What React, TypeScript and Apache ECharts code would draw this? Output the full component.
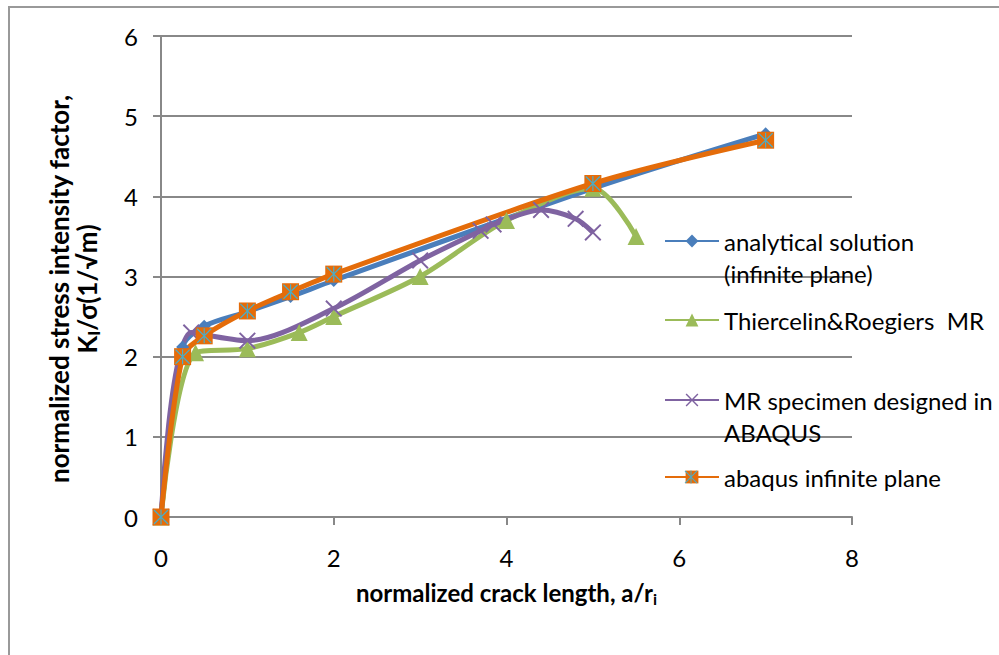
import React, { useEffect, useRef } from "react";
import * as echarts from "echarts";

// ---- data ----
const xAnalytical = [0, 0.25, 0.5, 1, 1.5, 2, 5, 7];
const yAnalytical = [0, 2.12, 2.38, 2.56, 2.75, 2.95, 4.1, 4.78];

const xThiercelin = [0, 0.4, 1, 1.6, 2, 3, 4, 5, 5.5];
const yThiercelin = [0, 2.05, 2.1, 2.3, 2.5, 3.0, 3.7, 4.1, 3.5];

const xSpecimen = [0, 0.35, 1, 2, 3, 3.7, 3.85, 4.4, 4.8, 5];
const ySpecimen = [0, 2.3, 2.2, 2.6, 3.2, 3.57, 3.65, 3.83, 3.72, 3.55];

const xAbaqus = [0, 0.25, 0.5, 1, 1.5, 2, 5, 7];
const yAbaqus = [0, 2.0, 2.26, 2.57, 2.81, 3.03, 4.16, 4.7];

const xTicks = { min: 0, max: 8, interval: 2 };
const yTicks = { min: 0, max: 6, interval: 1 };

const S1 = "analytical solution\n(infinite plane)";
const S2 = "Thiercelin&Roegiers  MR";
const S3 = "MR specimen designed in\nABAQUS";
const S4 = "abaqus infinite plane";
const S4M = "abaqus-marker";

const X_TITLE = "normalized crack length, a/r{sub|i}";
const Y_TITLE = "normalized stress intensity factor,\nK{sub|I}/σ(1/√m)";

const zip = (xs: number[], ys: number[]) => xs.map((x, i) => [x, ys[i]]);

const BLUE = "#4A7EBB";
const GREEN = "#9BBB59";
const PURPLE = "#7F63A1";
const ORANGE = "#E46C0A";
const CYAN = "#4BACC6";
const GRID = "#888888";
const FONT = 'Lato, "DejaVu Sans", sans-serif';
const FS = 24;

const X_PATH =
  "path://M0,0.8 L0.8,0 L5,4.2 L9.2,0 L10,0.8 L5.8,5 L10,9.2 L9.2,10 L5,5.8 L0.8,10 L0,9.2 L4.2,5 Z";
const AST_PATH =
  "path://M4.6,0 H5.4 V10 H4.6 Z M0,0.6 L0.6,0 L10,9.4 L9.4,10 Z M9.4,0 L10,0.6 L0.6,10 L0,9.4 Z";

export default function App() {
  const ref = useRef<HTMLDivElement>(null);
  useEffect(() => {
    if (!ref.current) return;
    const chart = echarts.init(ref.current, undefined, { renderer: "svg" });
    const legText = { fontSize: FS, color: "#000", fontFamily: FONT, lineHeight: 32 };
    const legBase = {
      orient: "vertical",
      left: 664,
      itemWidth: 54,
      itemHeight: 16,
      padding: 0,
      selectedMode: false,
      textStyle: legText,
    };
    // two-line entries: a blank first line keeps the icon beside the first text line
    const firstLineIcon = (name: string) => " \n" + name;
    const subRich = (fs: number) => ({
      sub: { fontSize: fs, fontWeight: "bold", color: "#000", padding: [12, 0, 0, 0], fontFamily: FONT },
    });
    chart.setOption({
      animation: false,
      textStyle: { fontFamily: FONT },
      grid: { left: 161, right: 147, top: 36, bottom: 138 },
      graphic: [
        {
          type: "rect",
          shape: { x: 9, y: 7, width: 1200, height: 900 },
          style: { fill: "none", stroke: "#999", lineWidth: 2 },
          silent: true,
          z: -1,
        },
        {
          type: "text",
          x: 73,
          y: 289,
          rotation: Math.PI / 2,
          silent: true,
          style: {
            text: Y_TITLE,
            fontSize: 26,
            fontWeight: "bold",
            fontFamily: FONT,
            fill: "#000",
            lineHeight: 28,
            align: "center",
            verticalAlign: "middle",
            rich: subRich(17),
          },
        },
      ],
      xAxis: {
        type: "value",
        ...xTicks,
        axisLine: { lineStyle: { color: GRID, width: 2 } },
        axisTick: { show: true, length: 8, lineStyle: { color: GRID, width: 2 } },
        axisLabel: { color: "#000", fontSize: FS, margin: 28, fontFamily: FONT },
        splitLine: { show: false },
        name: X_TITLE,
        nameLocation: "middle",
        nameGap: 61,
        nameTextStyle: {
          fontSize: FS,
          fontWeight: "bold",
          color: "#000",
          fontFamily: FONT,
          rich: subRich(16),
        },
      },
      yAxis: {
        type: "value",
        ...yTicks,
        axisLine: { show: true, lineStyle: { color: GRID, width: 2 } },
        axisTick: { show: true, length: 8, lineStyle: { color: GRID, width: 2 } },
        axisLabel: { color: "#000", fontSize: FS, margin: 23, fontFamily: FONT },
        splitLine: { show: true, lineStyle: { color: GRID, width: 2 } },
      },
      legend: [
        { ...legBase, top: 193, data: [S1], formatter: firstLineIcon },
        { ...legBase, top: 304, data: [S2] },
        { ...legBase, top: 352, data: [S3], formatter: firstLineIcon },
        { ...legBase, top: 461, data: [S4] },
        { ...legBase, top: 461, data: [S4M], formatter: () => " " },
      ],
      series: [
        {
          name: S1,
          type: "line",
          data: zip(xAnalytical, yAnalytical),
          smooth: 0.3,
          symbol: "diamond",
          symbolSize: 13,
          lineStyle: { color: BLUE, width: 5 },
          itemStyle: { color: BLUE },
        },
        {
          name: S2,
          type: "line",
          data: zip(xThiercelin, yThiercelin),
          smooth: 0.3,
          symbol: "triangle",
          symbolSize: 17,
          lineStyle: { color: GREEN, width: 5 },
          itemStyle: { color: GREEN },
        },
        {
          name: S3,
          type: "line",
          data: zip(xSpecimen, ySpecimen),
          smooth: 0.3,
          symbol: X_PATH,
          symbolSize: 17,
          lineStyle: { color: PURPLE, width: 5 },
          itemStyle: { color: PURPLE },
        },
        {
          name: S4,
          type: "line",
          data: zip(xAbaqus, yAbaqus),
          smooth: 0.3,
          symbol: "rect",
          symbolSize: 17,
          lineStyle: { color: ORANGE, width: 5 },
          itemStyle: { color: ORANGE },
        },
        {
          name: S4M,
          type: "line",
          data: zip(xAbaqus, yAbaqus),
          symbol: AST_PATH,
          symbolSize: 15,
          lineStyle: { color: CYAN, width: 0, opacity: 0 },
          itemStyle: { color: CYAN },
          z: 3,
        },
      ],
    });
    return () => chart.dispose();
  }, []);
  return (
    <div
      ref={ref}
      style={{ position: "fixed", left: 0, top: 0, width: 999, height: 655, background: "#fff" }}
    />
  );
}
